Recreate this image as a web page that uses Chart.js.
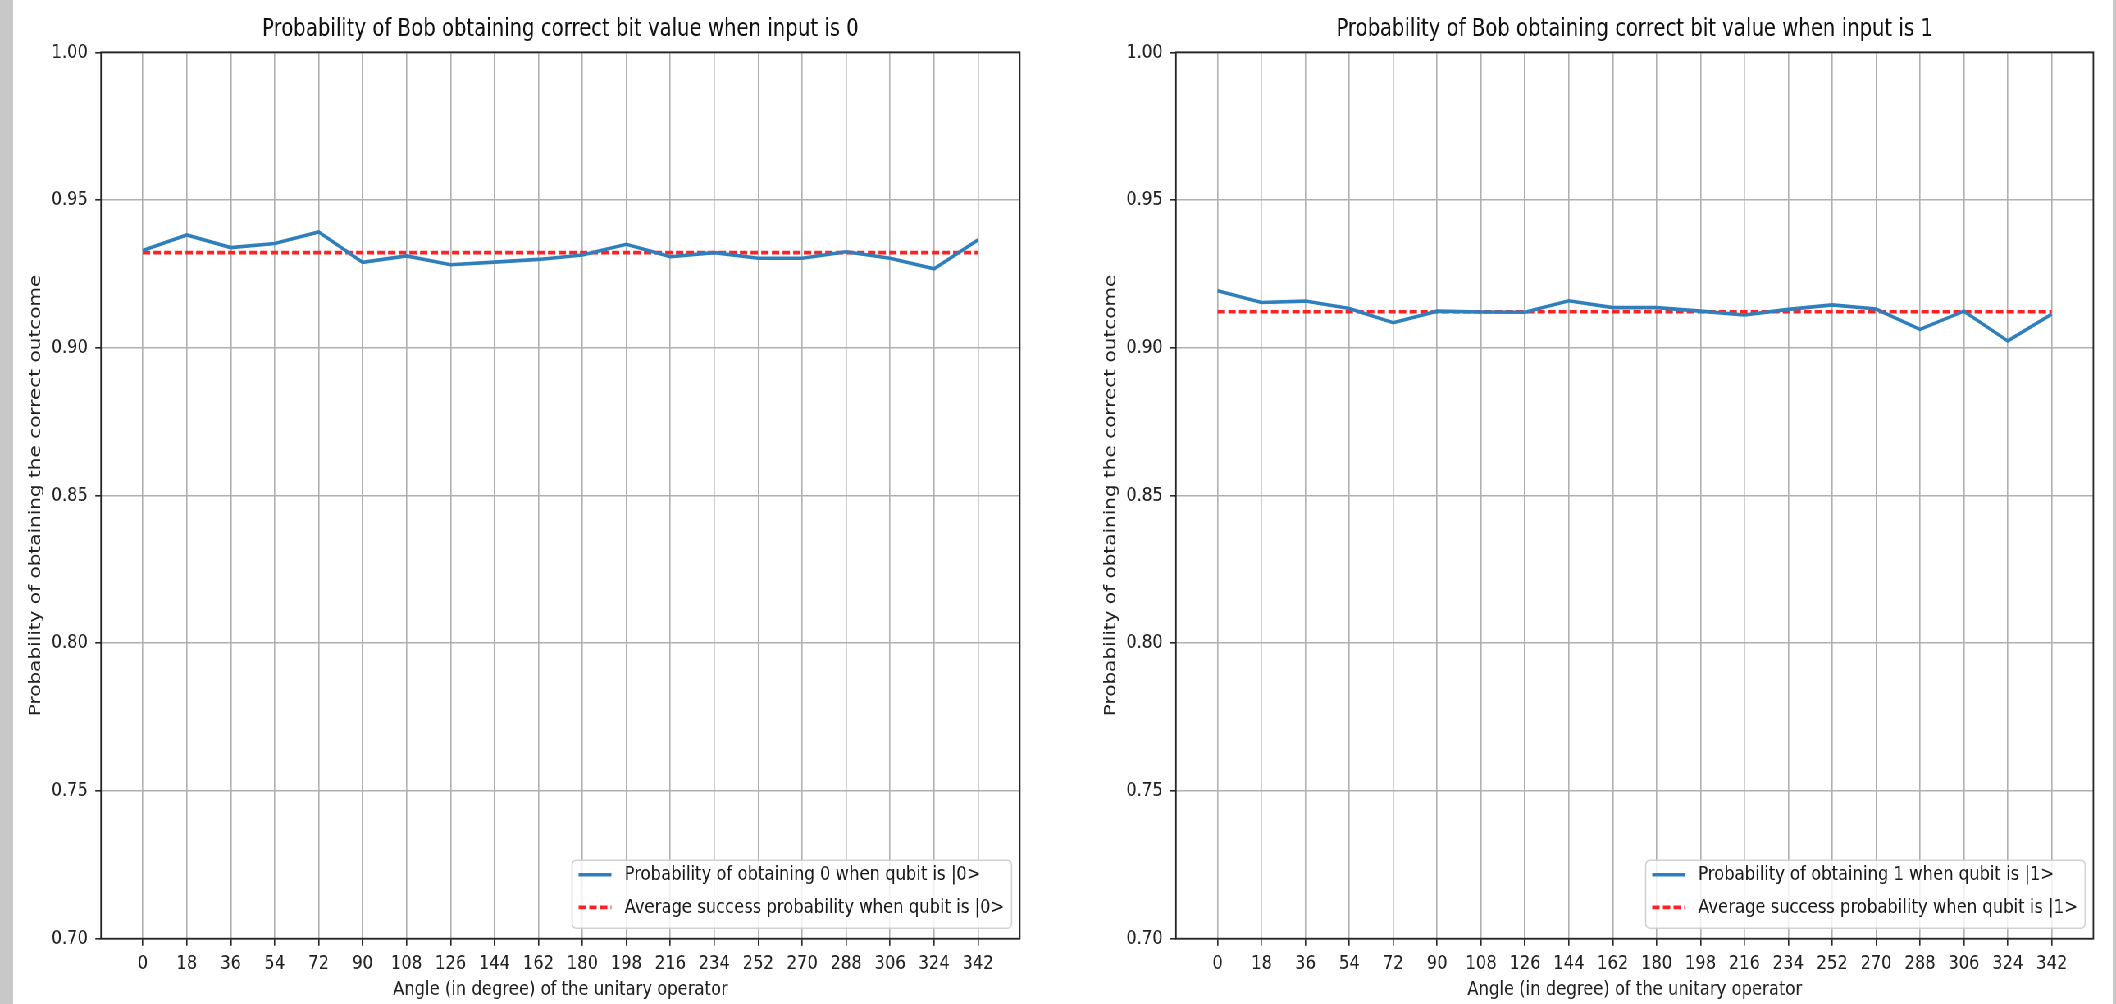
<!DOCTYPE html>
<html>
<head>
<meta charset="utf-8">
<script src="https://cdn.jsdelivr.net/npm/chart.js@4.4.1/dist/chart.umd.min.js"></script>
<style>
  html, body { margin:0; padding:0; background:#fff; }
  body { width:2116px; height:1004px; overflow:hidden; position:relative; }
  #lstrip { position:absolute; left:0; top:0; width:13px; height:1004px; background:#c8c8c8; }
  #rstrip { position:absolute; left:2113px; top:0; width:3px; height:1004px; background:#c8c8c8; }
  #wrap { position:absolute; left:0; top:0; width:2580px; height:1004px; transform:scaleX(0.82016); transform-origin:0 0; }
  .cell { position:absolute; top:0; width:1290px; height:1004px; }
</style>
</head>
<body>
<div id="wrap">
  <div class="cell" style="left:0px"><canvas id="c0"></canvas></div>
  <div class="cell" style="left:1290px"><canvas id="c1"></canvas></div>
</div>
<div id="lstrip"></div>
<div id="rstrip"></div>
<script>
// ---- data ----
const angles = [0, 18, 36, 54, 72, 90, 108, 126, 144, 162, 180, 198, 216, 234, 252, 270, 288, 306, 324, 342];
const prob0 = [0.9329, 0.9382, 0.9339, 0.9353, 0.9392, 0.9289, 0.9311, 0.9281, 0.9290, 0.9299,
               0.9314, 0.9350, 0.9308, 0.9322, 0.9303, 0.9303, 0.9325, 0.9303, 0.9267, 0.9365];
const avg0  = [0.9322, 0.9322, 0.9322, 0.9322, 0.9322, 0.9322, 0.9322, 0.9322, 0.9322, 0.9322,
               0.9322, 0.9322, 0.9322, 0.9322, 0.9322, 0.9322, 0.9322, 0.9322, 0.9322, 0.9322];
const prob1 = [0.9193, 0.9153, 0.9158, 0.9133, 0.9085, 0.9124, 0.9121, 0.9120, 0.9159, 0.9136,
               0.9136, 0.9124, 0.9111, 0.9130, 0.9145, 0.9131, 0.9062, 0.9124, 0.9023, 0.9114];
const avg1  = [0.9122, 0.9122, 0.9122, 0.9122, 0.9122, 0.9122, 0.9122, 0.9122, 0.9122, 0.9122,
               0.9122, 0.9122, 0.9122, 0.9122, 0.9122, 0.9122, 0.9122, 0.9122, 0.9122, 0.9122];
const yTicks = [0.70, 0.75, 0.80, 0.85, 0.90, 0.95, 1.00];
const titles = ['Probability of Bob obtaining correct bit value when input is 0',
                'Probability of Bob obtaining correct bit value when input is 1'];
const lineLabels = ['Probability of obtaining 0 when qubit is |0>', 'Probability of obtaining 1 when qubit is |1>'];
const avgLabels  = ['Average success probability when qubit is |0>', 'Average success probability when qubit is |1>'];
const yLabel = 'Probability of obtaining the correct outcome';
const xLabel = 'Angle (in degree) of the unitary operator';

Chart.defaults.font.family = '"DejaVu Sans", sans-serif';
Chart.defaults.animation = false;

const framePlugin = {
  id: 'frame',
  afterDatasetsDraw(chart) {
    const { ctx, chartArea: a } = chart;
    ctx.save();
    ctx.strokeStyle = '#262626';
    ctx.lineWidth = 1.8;
    ctx.strokeRect(a.left, a.top, a.right - a.left, a.bottom - a.top);
    ctx.restore();
  }
};

const legendPlugin = {
  id: 'mplLegend',
  afterDraw(chart) {
    const { ctx, chartArea: a } = chart;
    const ds = chart.data.datasets;
    ctx.save();
    ctx.font = '20px "DejaVu Sans"';
    const tw = Math.max(...ds.map(d => ctx.measureText(d.label).width));
    const w = 64 + tw + 9;
    const h = 68;
    const x = a.right - 10 - w;
    const y = a.bottom - 10.5 - h;
    ctx.beginPath();
    ctx.roundRect(x, y, w, h, 5);
    ctx.fillStyle = 'rgba(255,255,255,0.8)';
    ctx.fill();
    ctx.strokeStyle = 'rgba(204,204,204,0.9)';
    ctx.lineWidth = 1.6;
    ctx.stroke();
    ds.forEach((d, i) => {
      const cy = y + 14.5 + i * 32.7;
      ctx.beginPath();
      ctx.setLineDash(d.borderDash || []);
      ctx.strokeStyle = d.borderColor;
      ctx.lineWidth = d.borderWidth;
      ctx.moveTo(x + 8, cy);
      ctx.lineTo(x + 48, cy);
      ctx.stroke();
      ctx.setLineDash([]);
      ctx.fillStyle = '#1a1a1a';
      ctx.textBaseline = 'middle';
      ctx.textAlign = 'left';
      ctx.fillText(d.label, x + 64, cy);
    });
    ctx.restore();
  }
};

function makeChart(id, idx, probs, avg, yWidth, yTitlePad, rightPad) {
  const pts = probs.map((v, i) => ({ x: angles[i], y: v }));
  const avgPts = avg.map((v, i) => ({ x: angles[i], y: v }));
  const gridCfg = { color: '#b0b0b0', lineWidth: 1.6, tickLength: 7, tickColor: '#262626', tickWidth: 1.6 };
  return new Chart(document.getElementById(id), {
    type: 'line',
    data: {
      datasets: [
        { label: lineLabels[idx], data: pts, borderColor: '#2f7fbd', borderWidth: 3.6,
          pointRadius: 0, tension: 0, fill: false },
        { label: avgLabels[idx], data: avgPts, borderColor: '#ff2222', borderWidth: 3.6,
          borderDash: [9, 4], pointRadius: 0, tension: 0, fill: false }
      ]
    },
    options: {
      responsive: true,
      maintainAspectRatio: false,
      layout: { padding: { left: 0, right: rightPad, top: 0, bottom: 0 } },
      plugins: {
        legend: { display: false },
        tooltip: { enabled: false },
        title: {
          display: true, text: titles[idx], fullSize: false,
          font: { size: 24, weight: 'normal' }, color: '#111',
          padding: { top: 15.4, bottom: 8.1 }
        }
      },
      scales: {
        x: {
          type: 'linear', min: -17.1, max: 359.1,
          afterBuildTicks: s => { s.ticks = angles.map(v => ({ value: v })); },
          afterFit: s => { s.height = 65.3; },
          ticks: { font: { size: 20 }, color: '#222', padding: 6, maxRotation: 0, autoSkip: false,
                   callback: v => String(v) },
          grid: gridCfg,
          border: { display: false },
          title: { display: true, text: xLabel, font: { size: 20 }, color: '#222',
                   padding: { top: 0, bottom: 2 } }
        },
        y: {
          min: 0.70, max: 1.00,
          afterBuildTicks: s => { s.ticks = yTicks.map(v => ({ value: v })); },
          afterFit: s => { s.width = yWidth; },
          ticks: { font: { size: 20 }, color: '#222', padding: 9, callback: v => v.toFixed(2) },
          grid: gridCfg,
          border: { display: false },
          title: { display: true, text: yLabel, font: { size: 20 }, color: '#222',
                   padding: { top: yTitlePad, bottom: 0 } }
        }
      }
    },
    plugins: [framePlugin, legendPlugin]
  });
}

makeChart('c0', 0, prob0, avg0, 123.2, 31.7, 46.6);
makeChart('c1', 1, prob1, avg1, 143.8, 52.4, 27.6);
</script>
</body>
</html>
